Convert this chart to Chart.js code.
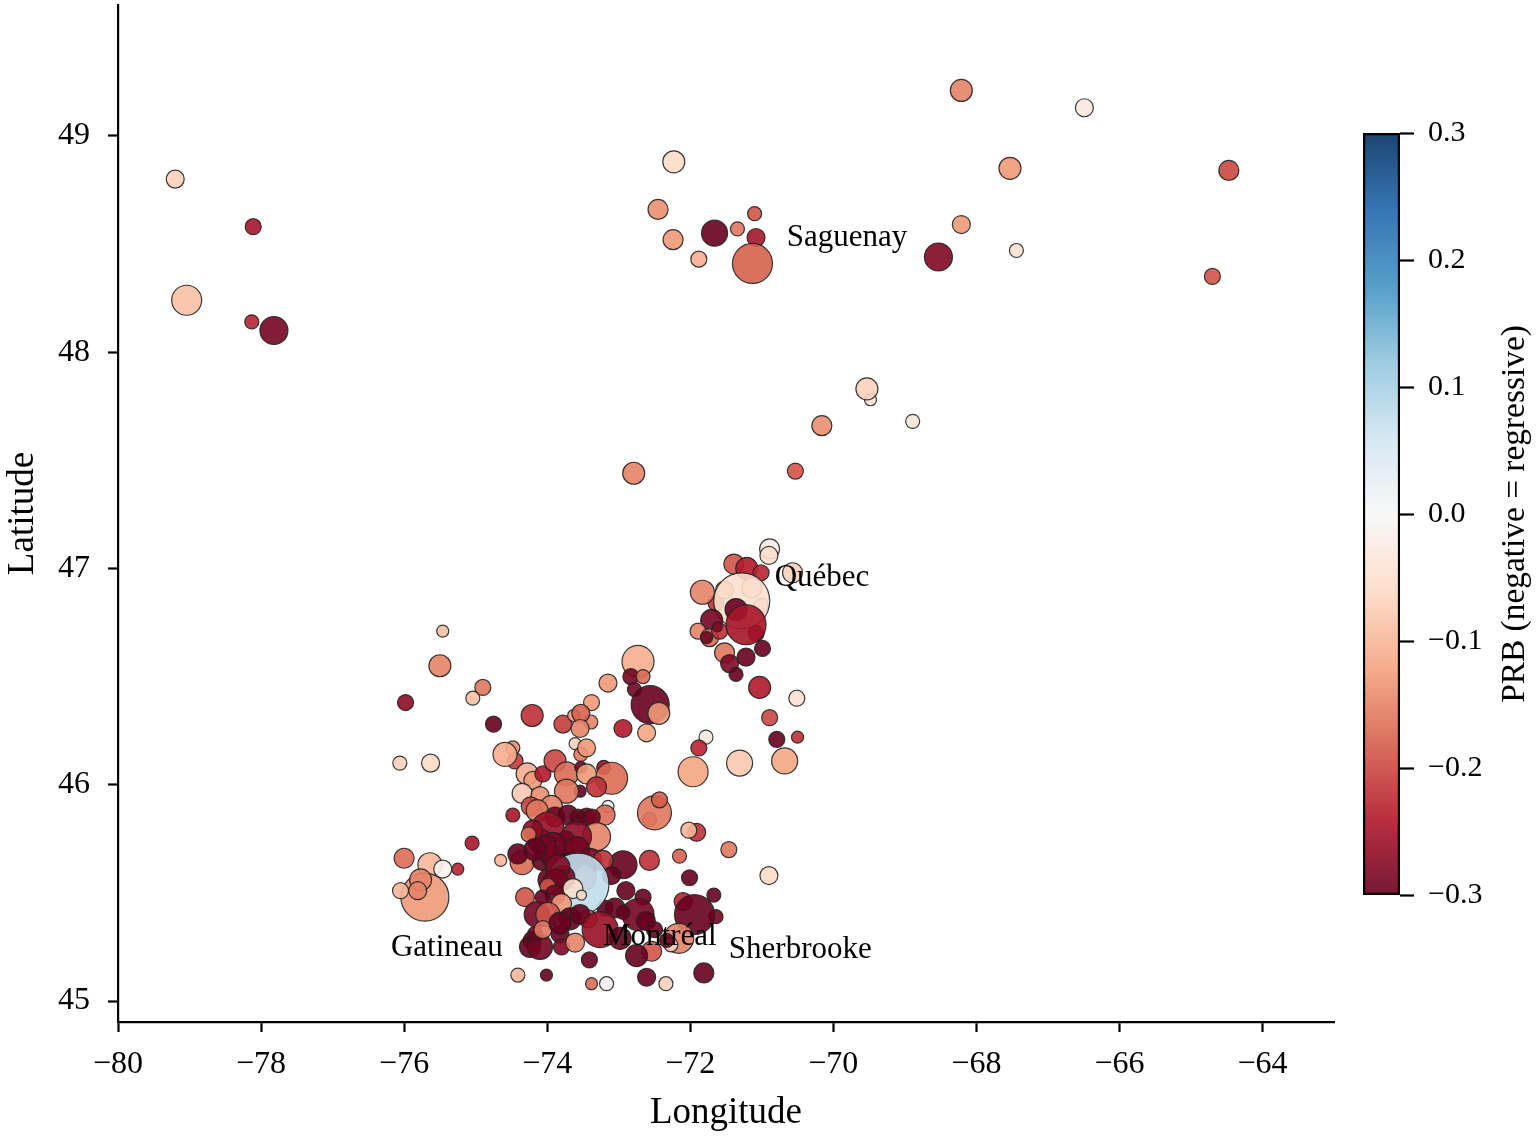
<!DOCTYPE html>
<html>
<head>
<meta charset="utf-8">
<style>
  html, body { margin: 0; padding: 0; background: #fff; }
  #main-wrap { position: absolute; left: 0; top: 0; width: 1537px; height: 1137px; }
  #bar-wrap { position: absolute; left: 1340px; top: 100px; width: 197px; height: 830px; }
</style>
<script src="https://cdn.jsdelivr.net/npm/chart.js@4/dist/chart.umd.min.js"></script>
</head>
<body>
<div id="main-wrap"><canvas id="mapChart"></canvas></div>
<div id="bar-wrap"><canvas id="barChart"></canvas></div>
<script>
// one entry per municipality, same order in all four lists (draw order matters)
const lons = [
  -79.20,-78.11,-79.04,-78.13,-77.82,-72.23,-72.45,-72.24,-71.88,-71.66,-71.34,-71.10,-71.08,-71.13,
  -68.53,-68.21,-68.21,-66.49,-67.53,-67.44,-64.47,-64.70,
  -69.48,-69.53,-68.89,-70.16,-70.53,-72.79,
  -70.89,-70.90,-70.57,-71.39,-71.21,-71.01,-71.64,-71.83,-71.52,-71.14,-71.01,-71.28,-71.36,-71.70,-71.89,-71.73,-71.77,
  -71.59,-71.62,-71.08,-71.22,-71.52,-71.22,-71.45,-71.36,-70.99,-71.03,-70.51,-70.89,-70.79,-70.50,-70.68,-71.31,
  -75.46,-75.50,-74.90,-75.04,-75.98,-74.75,-76.06,-75.63,-74.48,-74.45,-74.59,-74.21,-73.78,-73.63,-73.39,-73.38,-73.53,-73.54,-73.61,
  -73.53,-73.45,-73.15,-72.73,-72.83,-72.66,-72.78,-72.56,-72.44,-72.61,-72.94,-71.78,-71.88,-71.96,-73.21,-73.10,-74.28,-74.20,-74.06,
  -73.89,-73.73,-73.53,-73.45,-73.31,-73.54,-74.35,-74.10,-73.73,-73.94,-74.23,-74.14,-74.48,-73.15,-73.19,-73.89,-73.71,-73.57,-73.45,-73.37,
  -72.57,-72.50,-72.43,-71.91,-72.02,-71.46,-70.90,-72.15,-72.57,-72.94,-72.01,-72.90,-72.66,-71.67,-71.64,
  -72.10,-71.94,-72.73,-72.62,-72.50,-72.54,-72.75,-72.16,-72.27,-72.33,-71.81,-72.61,-72.34,-73.17,
  -76.00,-75.64,-75.46,-75.25,-75.05,-74.65,-75.71,-75.77,-75.81,-76.05,-74.41,-74.01,-73.41,-73.38,
  -73.31,-73.99,-73.59,-73.74,-74.10,-74.20,-74.26,-74.35,-74.41,-74.07,-73.92,-73.75,-73.85,-73.59,-73.40,-73.22,-73.10,-73.96,-73.89,-73.50,-73.61,-73.19,-73.05,-72.94,
  -73.92,-74.03,-74.17,-73.68,
  -73.57,
  -73.78,-73.85,-73.88,-73.99,-74.31,-73.89,-74.07,-73.64,-73.52,-73.80,-74.14,-73.99,-73.43,-73.68,-73.54,-73.26,-72.98,-74.21,-74.24,-74.10,-74.17,-74.06,-73.82,-73.82,-73.80,-73.61
];
const lats = [
  48.80,48.58,48.24,48.14,48.10,48.88,48.66,48.52,48.43,48.55,48.57,48.64,48.53,48.41,
  48.44,48.59,49.21,49.13,48.85,48.47,48.84,48.35,
  47.78,47.83,47.68,47.66,47.45,47.44,
  47.09,47.06,46.98,47.02,47.00,46.98,46.84,46.89,46.90,46.91,46.83,46.85,46.81,46.76,46.71,46.68,46.68,
  46.71,46.73,46.70,46.74,46.61,46.59,46.56,46.51,46.63,46.45,46.40,46.31,46.21,46.22,46.11,46.10,
  46.71,46.55,46.45,46.40,46.38,46.28,46.10,46.10,46.17,46.11,46.14,46.32,46.28,46.32,46.29,46.38,46.33,46.26,46.19,
  46.14,46.17,46.47,46.57,46.50,46.50,46.44,46.37,46.33,46.24,46.26,46.22,46.17,46.06,46.08,46.03,46.05,46.02,46.05,
  46.11,46.05,46.08,46.05,45.99,45.97,45.96,45.95,45.97,45.90,45.90,45.88,45.86,45.90,45.86,45.85,45.86,45.85,45.85,45.85,
  45.84,45.87,45.93,45.78,45.79,45.70,45.58,45.67,45.65,45.63,45.57,45.51,45.48,45.49,45.39,
  45.46,45.40,45.40,45.37,45.33,45.23,45.21,45.29,45.26,45.28,45.13,45.11,45.08,45.08,
  45.66,45.63,45.61,45.61,45.73,45.65,45.48,45.56,45.51,45.51,45.12,45.12,45.19,45.08,
  45.76,45.80,45.76,45.75,45.74,45.79,45.77,45.64,45.68,45.65,45.67,45.68,45.65,45.70,45.65,45.65,45.58,45.56,45.62,45.57,45.64,45.43,45.43,45.41,
  45.72,45.71,45.70,45.64,
  45.54,
  45.57,45.62,45.55,45.53,45.48,45.49,45.48,45.52,45.49,45.45,45.40,45.40,45.38,45.38,45.40,45.33,45.29,45.28,45.25,45.25,45.31,45.33,45.31,45.36,45.25,45.27
];
const prbs = [
  -.07,-.25,-.09,-.23,-.29,-.06,-.14,-.13,-.11,-.30,-.16,-.19,-.25,-.18,
  -.28,-.13,-.15,-.03,-.13,-.05,-.20,-.19,
  -.04,-.07,-.04,-.14,-.19,-.15,
  -.02,-.05,-.07,-.19,-.24,-.23,-.22,-.15,-.12,-.08,-.10,-.05,-.30,-.29,-.15,-.17,-.29,
  -.22,-.28,-.28,-.25,-.16,-.30,-.28,-.30,-.30,-.24,-.05,-.20,-.30,-.22,-.12,-.08,
  -.09,-.15,-.16,-.09,-.27,-.30,-.07,-.06,-.14,-.21,-.11,-.22,-.21,-.13,-.15,-.13,-.18,-.15,-.07,
  -.16,-.13,-.13,-.11,-.29,-.17,-.29,-.30,-.13,-.12,-.24,-.03,-.23,-.12,-.26,-.17,-.11,-.13,-.24,
  -.20,-.17,-.29,-.13,-.22,-.30,-.08,-.14,-.16,-.15,-.20,-.16,-.25,.02,-.17,-.29,-.30,-.30,-.30,-.29,
  -.18,-.16,-.18,-.22,-.10,-.16,-.06,-.18,-.22,-.30,-.30,-.30,-.30,-.30,-.29,
  -.23,-.30,-.29,-.30,-.30,-.19,-.30,-.15,-.07,-.30,-.30,-.30,-.07,-.01,
  -.17,-.10,-.01,-.23,-.25,-.10,-.13,-.15,-.15,-.10,-.10,-.30,-.30,-.17,
  -.15,-.26,-.27,-.29,-.27,-.27,-.17,-.17,-.30,-.30,-.30,-.25,-.29,-.29,-.29,-.22,-.30,-.30,-.29,-.15,-.20,-.30,-.30,-.30,
  -.29,-.29,-.30,-.30,
  .075,
  -.29,-.28,-.29,-.19,-.19,-.29,-.30,-.05,-.06,-.13,-.29,-.19,-.17,-.30,-.30,-.26,-.30,-.30,-.30,-.29,-.30,-.16,-.30,-.30,-.28,-.15
];
const sales = [
  81,64,225,49,196,121,100,100,64,169,49,49,81,400,
  196,81,121,81,121,49,100,64,
  36,121,49,100,64,121,
  100,81,100,100,121,64,64,144,81,100,49,784,121,121,64,81,36,
  64,25,64,400,100,81,81,49,64,121,64,64,64,36,169,169,
  36,121,64,49,64,64,49,81,49,64,144,121,81,36,49,64,81,81,36,
  49,81,81,256,64,49,49,361,121,81,81,49,64,225,49,256,121,81,64,
  121,144,36,100,100,36,100,81,144,121,90,121,49,36,100,100,100,64,81,64,
  49,289,64,81,64,64,81,49,100,196,64,81,64,49,49,
  81,400,256,90,64,100,121,225,49,49,100,81,49,49,
  100,144,81,36,49,36,576,121,81,64,49,36,64,36,
  196,256,225,64,144,100,56,144,100,100,144,100,100,169,144,100,81,144,100,169,49,64,100,49,
  169,144,121,100,
  961,
  144,144,169,64,90,100,49,100,25,100,169,144,81,121,100,324,121,81,110,156,56,81,81,121,64,90
];
const cityNames = ['Saguenay', 'Québec', 'Gatineau', 'Montréal', 'Sherbrooke'];
const cityLons = [-70.65, -70.82, -76.185, -73.22, -71.46];
const cityLats = [48.49, 46.92, 45.21, 45.26, 45.20];

const xTickRange = [-80, -63];
const yTickRange = [44.903, 49.605];
const prbRange = [-0.3, 0.3];

// RdBu, low to high
const rdbu = [[103,0,31],[178,24,43],[214,96,77],[244,165,130],[253,219,199],[247,247,247],
              [209,229,240],[146,197,222],[67,147,195],[33,102,172],[5,48,97]];
const ALPHA = 0.9;
const SERIF = '"Liberation Serif", "Times New Roman", serif';

function prbColor(v) {
  let t = (v - prbRange[0]) / (prbRange[1] - prbRange[0]) * (rdbu.length - 1);
  t = Math.max(0, Math.min(rdbu.length - 1, t));
  const i = Math.min(Math.floor(t), rdbu.length - 2);
  const f = t - i;
  const c = rdbu[i].map((a, k) => Math.round(a + (rdbu[i + 1][k] - a) * f));
  return `rgba(${c[0]},${c[1]},${c[2]},${ALPHA})`;
}

const minus = s => String(s).replace('-', '\u2212');

const points = lons.map((lon, i) => ({ x: lon, y: lats[i], r: Math.sqrt(sales[i]), prb: prbs[i] }));

const cityLabels = {
  id: 'cityLabels',
  afterDatasetsDraw(chart) {
    const c = chart.ctx;
    c.save();
    c.font = '31px ' + SERIF;
    c.fillStyle = '#000';
    c.textAlign = 'left';
    c.textBaseline = 'alphabetic';
    cityNames.forEach((name, i) => {
      c.fillText(name, chart.scales.x.getPixelForValue(cityLons[i]), chart.scales.y.getPixelForValue(cityLats[i]));
    });
    c.restore();
  }
};

new Chart(document.getElementById('mapChart'), {
  type: 'bubble',
  plugins: [cityLabels],
  data: {
    datasets: [{
      data: points,
      backgroundColor: ctx => prbColor(ctx.raw.prb),
      borderColor: 'rgba(35,35,35,0.9)',
      borderWidth: 1.2
    }]
  },
  options: {
    responsive: true,
    maintainAspectRatio: false,
    animation: false,
    events: [],
    layout: { autoPadding: false, padding: { top: 5, right: 203, left: 0, bottom: 0 } },
    plugins: { legend: { display: false }, tooltip: { enabled: false } },
    scales: {
      x: {
        type: 'linear',
        min: xTickRange[0],
        max: xTickRange[1],
        afterFit: s => { s.height = 115; s.paddingLeft = 0; s.paddingRight = 0; },
        border: { display: true, color: '#000', width: 2.2 },
        grid: { drawOnChartArea: false, drawTicks: true, tickLength: 10, tickColor: '#000', tickWidth: 2.2 },
        ticks: {
          stepSize: 2,
          includeBounds: false,
          autoSkip: false,
          maxRotation: 0,
          padding: 13,
          color: '#000',
          font: { family: SERIF, size: 32 },
          callback: v => minus(v)
        },
        title: { display: true, text: 'Longitude', color: '#000', font: { family: SERIF, size: 37 }, padding: { top: 0, bottom: 2 } }
      },
      y: {
        type: 'linear',
        min: yTickRange[0],
        max: yTickRange[1],
        afterFit: s => { s.width = 118; s.paddingTop = 0; s.paddingBottom = 0; },
        border: { display: true, color: '#000', width: 2.2 },
        grid: { drawOnChartArea: false, drawTicks: true, tickLength: 10, tickColor: '#000', tickWidth: 2.2 },
        ticks: {
          stepSize: 1,
          includeBounds: false,
          autoSkip: false,
          padding: 18,
          color: '#000',
          font: { family: SERIF, size: 32 },
          callback: v => String(v)
        },
        title: { display: true, text: 'Latitude', color: '#000', font: { family: SERIF, size: 37 }, padding: { top: 1, bottom: 0 } }
      }
    }
  }
});

// colour bar, a single floating bar on its own PRB scale
function barGradient(ctx) {
  const area = ctx.chart.chartArea;
  if (!area) return '#888';
  const g = ctx.chart.ctx.createLinearGradient(0, area.bottom, 0, area.top);
  rdbu.forEach((c, i) => g.addColorStop(i / (rdbu.length - 1), `rgba(${c[0]},${c[1]},${c[2]},${ALPHA})`));
  return g;
}

const barTitle = {
  id: 'barTitle',
  afterDraw(chart) {
    const c = chart.ctx;
    const a = chart.chartArea;
    c.save();
    c.translate(175, (a.top + a.bottom) / 2);
    c.rotate(-Math.PI / 2);
    c.font = '33.4px ' + SERIF;
    c.fillStyle = '#000';
    c.textAlign = 'center';
    c.textBaseline = 'middle';
    c.fillText('PRB (negative = regressive)', 0, 0);
    c.restore();
  }
};

new Chart(document.getElementById('barChart'), {
  type: 'bar',
  plugins: [barTitle],
  data: {
    labels: ['PRB'],
    datasets: [{
      data: [prbRange],
      backgroundColor: barGradient,
      borderColor: '#000',
      borderWidth: 2.4,
      borderSkipped: false,
      barPercentage: 1,
      categoryPercentage: 1
    }]
  },
  options: {
    responsive: true,
    maintainAspectRatio: false,
    animation: false,
    events: [],
    layout: { padding: { top: 33, right: 0, left: 23, bottom: 35 } },
    plugins: { legend: { display: false }, tooltip: { enabled: false } },
    scales: {
      x: { display: false },
      y: {
        type: 'linear',
        position: 'right',
        min: prbRange[0],
        max: prbRange[1],
        afterFit: s => { s.width = 137; },
        border: { display: false },
        grid: { drawOnChartArea: false, drawTicks: true, tickLength: 14, tickColor: '#000', tickWidth: 2.2 },
        ticks: {
          stepSize: 0.1,
          autoSkip: false,
          padding: 14,
          color: '#000',
          font: { family: SERIF, size: 30 },
          callback: v => minus(v.toFixed(1))
        }
      }
    }
  }
});
</script>
</body>
</html>
